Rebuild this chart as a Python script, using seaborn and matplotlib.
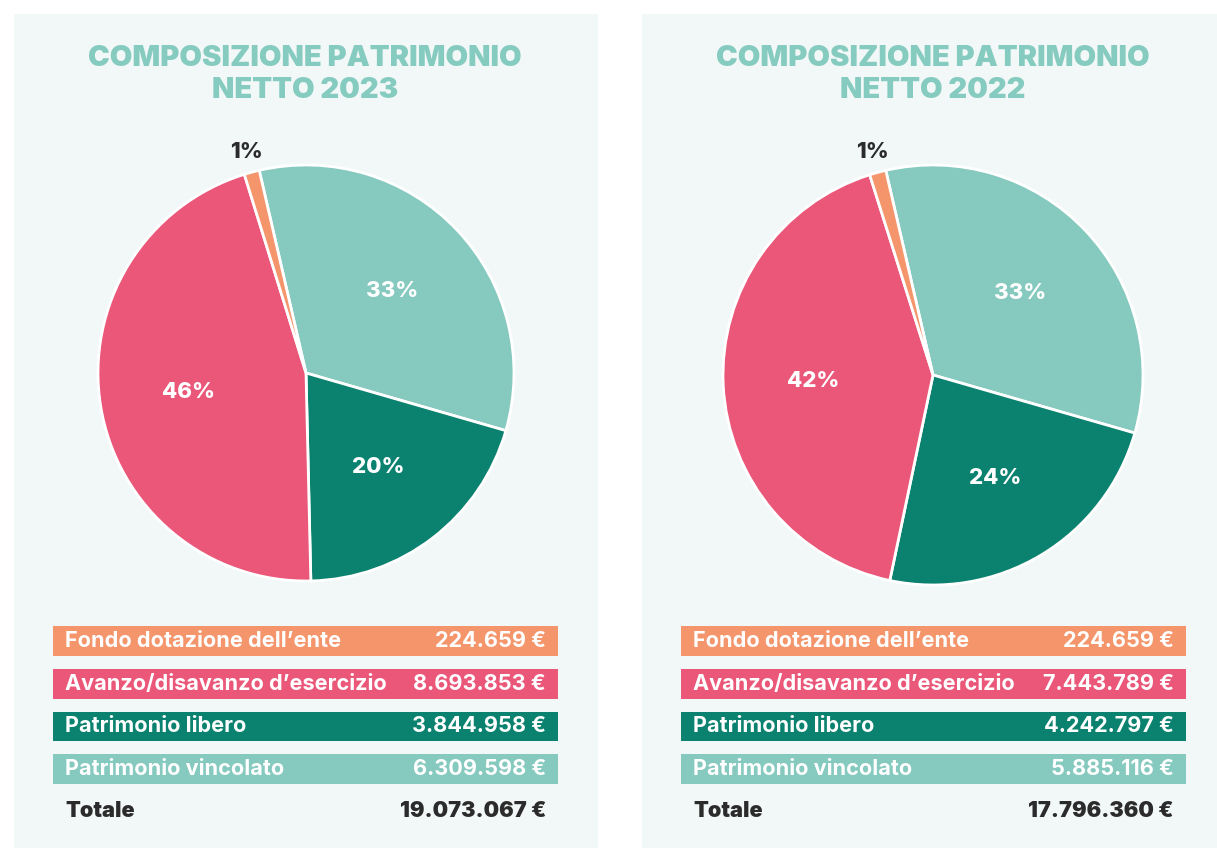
import matplotlib
matplotlib.use("Agg")
import matplotlib.pyplot as plt
import seaborn as sns
import pandas as pd
import numpy as np
from matplotlib.patches import Rectangle

# ---- data ----
categories = ["Fondo dotazione dell’ente", "Avanzo/disavanzo d’esercizio",
              "Patrimonio libero", "Patrimonio vincolato"]
years = [2023, 2022]
values_2023 = [224659, 8693853, 3844958, 6309598]
values_2022 = [224659, 7443789, 4242797, 5885116]
totals = [19073067, 17796360]
colors = ["#F4956B", "#EA5779", "#0B826F", "#85C9BF"]
title_prefix = "COMPOSIZIONE PATRIMONIO\nNETTO "

sns.set_theme(style="white")
plt.rcParams["font.family"] = ["Inter", "DejaVu Sans"]

W, H = 1217, 848
fig = plt.figure(figsize=(W / 100, H / 100), dpi=100)
fig.patch.set_facecolor("white")

def fmt(v):
    return f"{v:,}".replace(",", ".") + " €"

panel_x = [14, 642]
pie_geom = [(306, 373, 208), (933, 375, 210)]
series = [values_2023, values_2022]
for x0, (cx, cy, r), year, vals, tot in zip(panel_x, pie_geom, years, series, totals):
    # panel background
    fig.patches.append(Rectangle((x0 / W, 0), 584 / W, 1 - 14 / H,
                                 transform=fig.transFigure,
                                 facecolor="#F2F8F8", edgecolor="none", zorder=-10))
    # title
    fig.text((x0 + 291) / W, 1 - 74.5 / H, title_prefix + str(year),
             ha="center", va="center", color="#86CBBF", fontsize=21,
             fontweight=900, linespacing=1.22)

    # pie
    side = 2.5 * r
    pax = fig.add_axes([(cx - side / 2) / W, 1 - (cy + side / 2) / H, side / W, side / H])
    pv = vals[::-1]
    pc = colors[::-1]
    wedges, _ = pax.pie(pv, colors=pc, startangle=103, counterclock=False,
                        wedgeprops=dict(edgecolor="white", linewidth=2))
    pax.set_xlim(-1.25, 1.25)
    pax.set_ylim(-1.25, 1.25)
    pax.set_aspect("equal")
    pax.axis("off")
    s = sum(pv)
    for w, v in zip(wedges, pv):
        pct = 100 * v / s
        ang = np.deg2rad((w.theta1 + w.theta2) / 2)
        if pct < 3:
            d, col = 1.1, "#2B2B2B"
        else:
            d, col = 0.57, "white"
        pax.text(d * np.cos(ang), d * np.sin(ang), f"{pct:.0f}%", ha="center",
                 va="center", color=col, fontsize=16, fontweight=800)

    # legend table
    lx0, lx1 = x0 + 39, x0 + 544
    ytop, ybot = 619.6, 833.4
    lax = fig.add_axes([lx0 / W, 1 - ybot / H, (lx1 - lx0) / W, (ybot - ytop) / H])
    df = pd.DataFrame({"cat": categories, "w": [1] * len(categories)})
    sns.barplot(data=df, x="w", y="cat", hue="cat", palette=colors, orient="h",
                width=0.70, linewidth=0, ax=lax, legend=False, saturation=1)
    lax.set_xlim(0, 1)
    lax.set_ylim(4.5, -0.5)
    lax.axis("off")
    tr = lax.get_yaxis_transform()
    pad = 12 / (lx1 - lx0)
    for i, (c, v) in enumerate(zip(categories, vals)):
        lax.text(pad, i, c, transform=tr, ha="left", va="center", color="white",
                 fontsize=15.6, fontweight=700)
        lax.text(1 - pad, i, fmt(v), transform=tr, ha="right", va="center",
                 color="white", fontsize=15.6, fontweight=700)
    lax.text(pad, 3.97, "Totale", transform=tr, ha="left", va="center",
             color="#2B2B2B", fontsize=15.6, fontweight=900)
    lax.text(1 - pad, 3.97, fmt(tot), transform=tr, ha="right", va="center",
             color="#2B2B2B", fontsize=15.6, fontweight=900)

fig.savefig("out.png", dpi=100, facecolor="white")
